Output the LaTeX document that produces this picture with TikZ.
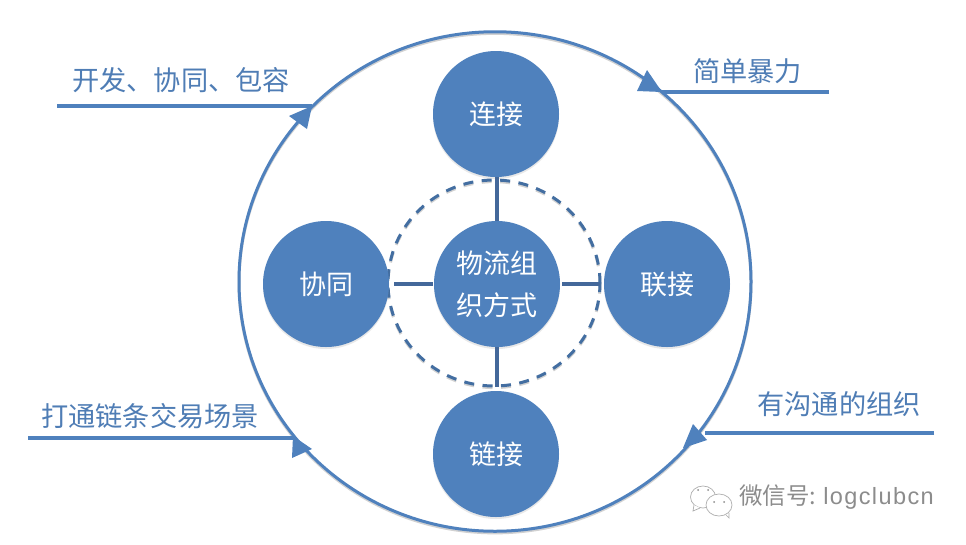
\documentclass[tikz,border=0pt]{standalone}
\usepackage{fontspec}
\setmainfont{Noto Sans CJK SC}
\newfontfamily\latinmark[LetterSpace=6]{Liberation Sans}
\usetikzlibrary{shapes.geometric,shadows}
\definecolor{bluefill}{HTML}{4F81BD}
\definecolor{bluelink}{HTML}{44689A}
\definecolor{bluetext}{HTML}{4F7DB5}
\definecolor{markgray}{HTML}{8C8C8C}
\tikzset{
  softline/.style={preaction={draw=black!18,transform canvas={yshift=-1.6pt}}},
  hub/.style={circle,fill=bluefill,text=white,inner sep=0pt,outer sep=0pt,minimum size=126pt,
     align=center,font=\fontsize{27}{42}\selectfont,
     drop shadow={opacity=.18,shadow xshift=0pt,shadow yshift=-2pt}},
  ringshape/.style={ellipse,draw=bluefill,line width=3pt,inner sep=0pt,outer sep=0pt,softline},
  dashring/.style={ellipse,draw=bluefill!85!black,line width=3pt,inner sep=0pt,outer sep=0pt,
     dash pattern=on 10pt off 8.5pt,softline},
  spoke/.style={draw=bluelink,line width=3.4pt},
  leader/.style={draw=bluefill,line width=3.4pt,softline},
  tiphead/.style={fill=bluefill,draw=none},
  caption/.style={text=bluetext,inner sep=0pt,font=\fontsize{27.2}{32}\selectfont}
}
\begin{document}
\begin{tikzpicture}[x=1pt,y=-1pt]
\useasboundingbox (0,0) rectangle (966,544);
\fill[white] (0,0) rectangle (966,544);

\node[ringshape,minimum width=512pt,minimum height=499.5pt] (ring) at (495,281.5) {};
\node[dashring,minimum width=212pt,minimum height=206pt] (dashes) at (494,283) {};

\node[hub] (core) at (497,284) {物流组\\织方式};
\node[hub] (north) at (496,114) {连接};
\node[hub] (south) at (496,454) {链接};
\node[hub] (west) at (326,284) {协同};
\node[hub] (east) at (667,284) {联接};

\draw[spoke] (core.north) -- (core.north |- north.south);
\draw[spoke,shorten >=4pt] (core.south) -- (core.south |- south.north);
\draw[spoke,shorten >=5pt,shorten <=1pt] (core.west) -- (west.east);
\draw[spoke,shorten >=4pt,shorten <=2pt] (core.east) -- (east.west);

\coordinate (tipA) at (312,106);
\coordinate (tipB) at (662,92);
\coordinate (tipC) at (683,448);
\coordinate (tipD) at (293,436);
\coordinate (endA) at (57,106);
\coordinate (endB) at (829,92);
\coordinate (endC) at (934,433);
\coordinate (endD) at (28,438);
\coordinate (stopC) at (705,433);
\coordinate (stopD) at (296,438);

\draw[leader] (endA) -- (tipA);
\draw[leader] (endB) -- (tipB);
\draw[leader] (endC) -- (stopC);
\draw[leader] (endD) -- (stopD);

\fill[tiphead] (tipA) -- (289,116) -- (307,129) -- cycle;
\fill[tiphead] (tipB) -- (647,70) -- (637,91) -- cycle;
\fill[tiphead] (tipC) -- (693,424) -- (707,440) -- cycle;
\fill[tiphead] (tipD) -- (312,449) -- (292,458) -- cycle;

\node[caption] (capA) at (181,80) {开发、协同、包容};
\node[caption] (capB) at (747.5,71) {简单暴力};
\node[caption] (capC) at (839,404) {有沟通的组织};
\node[caption] (capD) at (150,416) {打通链条交易场景};

% watermark icon
\draw[markgray!70,line width=.7pt,fill=white] (703,497) ellipse (12.5pt and 11pt);
\draw[markgray!70,line width=.7pt,fill=white] (694,505) -- (693,511) -- (700,508);
\draw[markgray!70,line width=.7pt,fill=white] (719,505) ellipse (13pt and 11pt);
\draw[markgray!70,line width=.7pt] (726,515) -- (729,518) -- (729,513);
\fill[markgray] (698,490) circle (1pt) (708,490) circle (1pt) (714,502) circle (1pt) (724,502) circle (1pt);
\node[text=markgray,inner sep=0pt,anchor=west,font=\fontsize{23.5}{28}\selectfont] (markline) at (739,497) {微信号: {\latinmark logclubcn}};
\end{tikzpicture}
\end{document}
